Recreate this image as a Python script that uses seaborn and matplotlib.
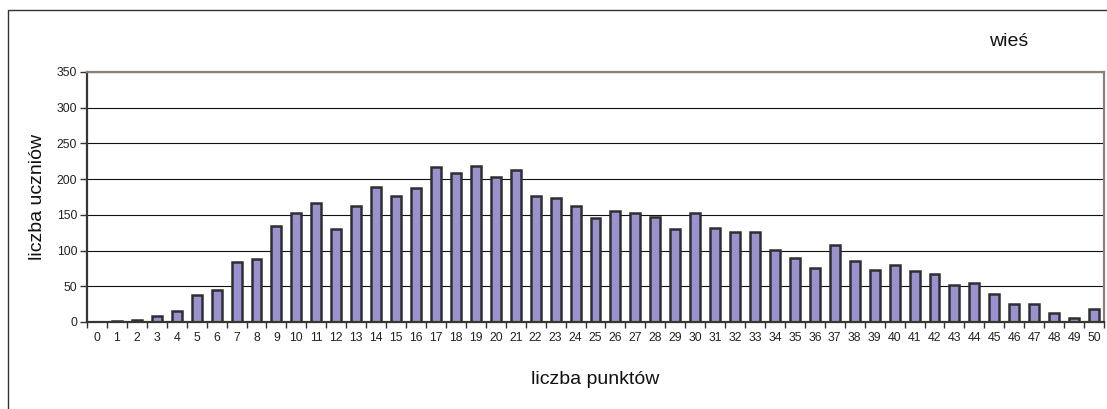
import numpy as np
import pandas as pd
import matplotlib
matplotlib.use("Agg")
import matplotlib.pyplot as plt
import seaborn as sns
from matplotlib.patches import Rectangle

points = list(range(0, 51))
students = [0, 2, 3, 9, 15, 38, 45, 84, 88, 135,
            152, 166, 130, 162, 189, 177, 188, 217, 208, 219,
            203, 213, 177, 173, 163, 145, 156, 153, 147, 130,
            152, 131, 126, 126, 101, 89, 76, 108, 85, 73,
            80, 71, 67, 52, 54, 39, 25, 25, 12, 5, 18]
y_ticks = [0, 50, 100, 150, 200, 250, 300, 350]

sns.set_theme(style="white")
plt.rcParams['font.family'] = ['Liberation Sans', 'DejaVu Sans']

df = pd.DataFrame({"pkt": [str(p) for p in points], "n": students})

fig = plt.figure(figsize=(11.07, 4.09), dpi=100)
ax = fig.add_axes([87/1107, 1-322/409, (1104-87)/1107, 250/409])

sns.barplot(data=df, x="pkt", y="n", ax=ax, color="#9a92cc", width=0.5,
            edgecolor="#2e2e33", linewidth=1.8, saturation=1)

ax.set_ylim(0, 350)
ax.set_xlim(-0.5, len(points) - 0.5)
ax.set_yticks(y_ticks)
ax.set_yticklabels([str(v) for v in y_ticks], fontsize=8.8, color="#222222")
ax.set_xticks(range(len(points)))
ax.set_xticklabels([str(p) for p in points], fontsize=8.8, color="#222222")
ax.tick_params(axis="x", length=0, pad=7)
ax.tick_params(axis="y", length=5, width=1, color="#333333", direction="out", left=True, pad=2)

# tick marks between categories
ax.set_xticks(np.arange(-0.5, len(points), 1), minor=True)
ax.tick_params(axis="x", which="minor", length=4, width=1, color="#333333", direction="out", bottom=True)

ax.yaxis.grid(True, color="#111111", linewidth=0.8)
ax.set_axisbelow(True)
for side in ["top", "right"]:
    ax.spines[side].set_visible(True)
    ax.spines[side].set_color("#8a807c")
    ax.spines[side].set_linewidth(1.6)
ax.spines["left"].set_color("#3a3530")
ax.spines["left"].set_linewidth(1.6)
ax.spines["bottom"].set_color("#3a3530")
ax.spines["bottom"].set_linewidth(1.6)

ax.set_xlabel("")
ax.set_ylabel("")
fig.text(595/1107, 1-380/409, "liczba punktów", ha="center", va="center", fontsize=14, color="#111111")
fig.text(37/1107, 1-197/409, "liczba uczniów", ha="center", va="center", rotation=90, fontsize=14, color="#111111")
fig.text(1009/1107, 1-42/409, "wieś", ha="center", va="center", fontsize=14, color="#111111")

fig.patches.append(Rectangle((8/1107, -0.1), 1.2, 1 - 10/409 + 0.1, transform=fig.transFigure,
                             fill=False, edgecolor="#333333", linewidth=1.0, clip_on=False))

fig.savefig("out.png", dpi=100)
